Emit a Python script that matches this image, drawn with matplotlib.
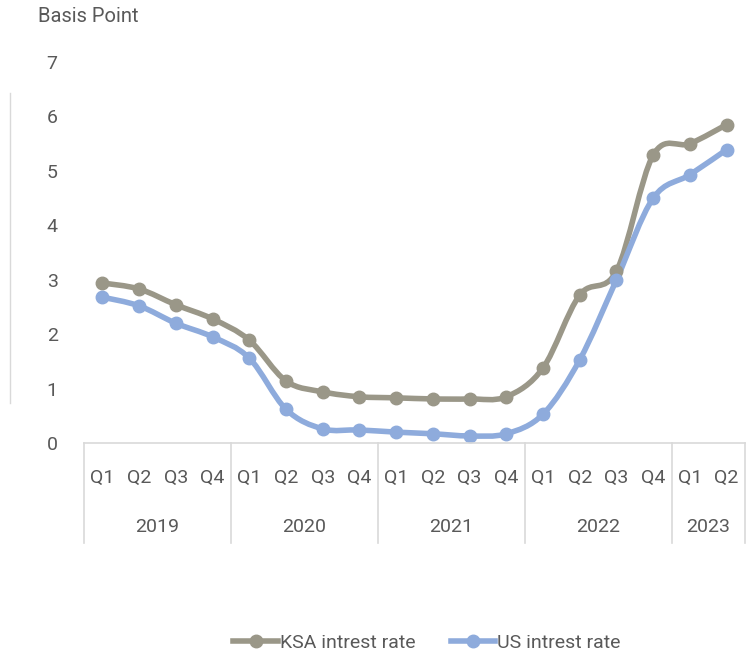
import matplotlib
matplotlib.use('Agg')
import matplotlib.pyplot as plt
import numpy as np
from matplotlib.path import Path
from matplotlib.patches import PathPatch
from matplotlib.lines import Line2D

plt.rcParams['font.family'] = ['Roboto', 'DejaVu Sans']

YEARS = ['2019', '2020', '2021', '2022', '2023']
QUARTERS_PER_YEAR = [4, 4, 4, 4, 2]
KSA = [2.94, 2.83, 2.54, 2.28, 1.89, 1.14, 0.94, 0.85, 0.83, 0.81, 0.81, 0.85,
       1.38, 2.72, 3.16, 5.29, 5.50, 5.85]
US = [2.68, 2.52, 2.20, 1.95, 1.56, 0.62, 0.26, 0.24, 0.20, 0.17, 0.13, 0.17,
      0.53, 1.53, 3.00, 4.50, 4.93, 5.39]

KSA_COLOR = '#9a9788'
US_COLOR = '#8eabdc'
TEXT_COLOR = '#595959'
LINE_GRAY = '#d9d9d9'
FS = 14


def smooth_path(x, y):
    # Excel-style smoothed line: cubic bezier segments (catmull-rom control points)
    pts = np.column_stack([x, y])
    n = len(pts)
    verts = [pts[0]]
    codes = [Path.MOVETO]
    for i in range(n - 1):
        p0 = pts[max(i - 1, 0)]
        p1 = pts[i]
        p2 = pts[i + 1]
        p3 = pts[min(i + 2, n - 1)]
        c1 = p1 + (p2 - p0) / 6.0
        c2 = p2 - (p3 - p1) / 6.0
        verts += [c1, c2, p2]
        codes += [Path.CURVE4] * 3
    return Path(verts, codes)


fig = plt.figure(figsize=(7.53, 6.54), dpi=100)
ax = fig.add_axes([0.1116, 0.3226, 0.8778, 0.5826])

x = np.arange(len(KSA))
for vals, col in [(KSA, KSA_COLOR), (US, US_COLOR)]:
    ax.add_patch(PathPatch(smooth_path(x, vals), fill=False, edgecolor=col,
                           lw=4.0, capstyle='round', joinstyle='round'))
    ax.plot(x, vals, ls='none', marker='o', ms=9, color=col)

ax.set_xlim(-0.5, len(KSA) - 0.5)
ax.set_ylim(0, 7)
ax.set_yticks(range(0, 8))
ax.tick_params(axis='y', length=0, pad=19, labelsize=FS, labelcolor=TEXT_COLOR)
ax.set_xticks([])
for s in ['left', 'right', 'top']:
    ax.spines[s].set_visible(False)
ax.spines['bottom'].set_color(LINE_GRAY)
ax.spines['bottom'].set_linewidth(1.2)

# multi-level category axis
trans = ax.get_xaxis_transform()
start = 0
bounds = [-0.5]
for yr, nq in zip(YEARS, QUARTERS_PER_YEAR):
    for q in range(nq):
        ax.text(start + q, -0.092, 'Q%d' % (q + 1), transform=trans,
                ha='center', va='center', fontsize=FS, color=TEXT_COLOR)
    ax.text(start + (nq - 1) / 2.0, -0.22, yr, transform=trans,
            ha='center', va='center', fontsize=FS, color=TEXT_COLOR)
    start += nq
    bounds.append(start - 0.5)
for b in bounds:
    ax.plot([b, b], [0, -0.262], transform=trans, color=LINE_GRAY, lw=1.2,
            clip_on=False)

fig.text(38 / 753, 1 - 17 / 654, 'Basis Point', ha='left', va='center',
         fontsize=14.5, color=TEXT_COLOR)

# faint stray line at the far left
fig.add_artist(Line2D([10 / 753, 10 / 753], [1 - 93 / 654, 1 - 403 / 654],
                      color=LINE_GRAY, lw=1))

handles = [Line2D([], [], color=KSA_COLOR, lw=4.0, marker='o', ms=9),
           Line2D([], [], color=US_COLOR, lw=4.0, marker='o', ms=9)]
fig.legend(handles, ['KSA intrest rate', 'US intrest rate'], loc='center',
           bbox_to_anchor=(0.567, 0.017), ncol=2, frameon=False,
           fontsize=FS, labelcolor=TEXT_COLOR, handlelength=2.3,
           handletextpad=0.1, columnspacing=1.8)

fig.savefig('out.png', dpi=100)
